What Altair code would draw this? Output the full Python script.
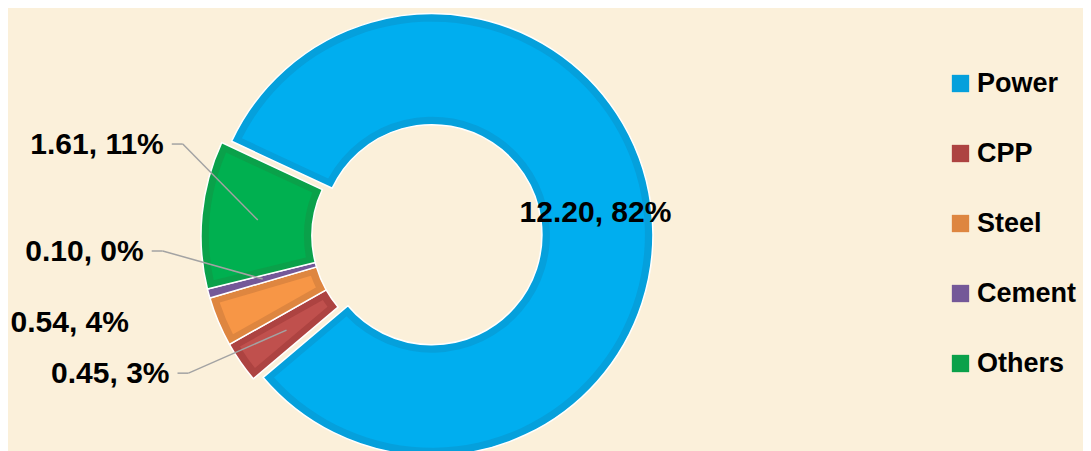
import math
import altair as alt
import pandas as pd

# ---------------- data ----------------
CATEGORIES = ["Power", "CPP", "Steel", "Cement", "Others"]
VALUES = [12.20, 0.45, 0.54, 0.10, 1.61]
PERCENTS = ["82%", "3%", "4%", "0%", "11%"]

# ---------------- style ----------------
FILL = ["#00AEEF", "#C0504D", "#F79646", "#8064A2", "#00B050"]
BORDER = ["#05A0DC", "#AD4341", "#DE8640", "#745898", "#0AA14A"]
BG = "#FBF0DA"
FONT = "Liberation Sans"

W, H = 1075, 443
REST_CX, REST_CY = 414, 228          # centre of the non-exploded slices
EXPLODE = 10                          # explosion of the first slice (px)
FIRST_SLICE_DEG = 295                 # angle of first slice (clockwise from top)
R_OUT, R_IN, BW = 221, 110, 8
LABEL_R = 165

START = math.radians(FIRST_SLICE_DEG - 360)
TOTAL = sum(VALUES)
bis = START + math.pi * VALUES[0] / TOTAL
POWER_CX = REST_CX + EXPLODE * math.sin(bis)
POWER_CY = REST_CY - EXPLODE * math.cos(bis)

# label placement offsets (relative to slice anchor), leader line on/off
LABEL_LAYOUT = {
    "Others": (-75, -76, True),
    "Cement": (-100, -28, True),
    "CPP": (-98, 43, True),
    "Steel": (-141, 22, False),
}

df = pd.DataFrame({
    "cat": CATEGORIES,
    "value": VALUES,
    "order": list(range(len(CATEGORIES))),
    "label": [f"{v:.2f}, {p}" for v, p in zip(VALUES, PERCENTS)],
})

base = (
    alt.Chart(df)
    .transform_window(cum="sum(value)", sort=[alt.SortField("order")], frame=[None, 0])
    .transform_joinaggregate(total="sum(value)")
    .transform_calculate(
        t0=f"{START} + 2*PI*(datum.cum - datum.value)/datum.total",
        t1=f"{START} + 2*PI*datum.cum/datum.total",
    )
    .transform_calculate(tm="(datum.t0 + datum.t1)/2")
)

legend = alt.Legend(
    title=None, orient="none", legendX=939, legendY=62,
    symbolType="square", symbolSize=300, symbolStrokeWidth=0, symbolOpacity=1,
    labelFont=FONT, labelFontSize=27, labelFontWeight="bold", labelColor="black",
    rowPadding=42, labelOffset=3, padding=0, labelLimit=300,
)

theta = alt.Theta("t0:Q", scale=None, stack=None)
theta2 = alt.Theta2("t1:Q")


def arcs(is_power, cx, cy):
    filt = "datum.cat == 'Power'" if is_power else "datum.cat != 'Power'"
    b = base.transform_filter(filt)
    border = b.mark_arc(
        outerRadius=R_OUT, innerRadius=R_IN, stroke="white", strokeWidth=1.5
    ).encode(
        theta=theta, theta2=theta2,
        color=alt.Color("cat:N", scale=alt.Scale(domain=CATEGORIES, range=BORDER),
                        legend=None if is_power else legend),
        x=alt.value(cx), y=alt.value(cy),
    )
    inner = b.mark_arc(
        outerRadius=R_OUT - BW, innerRadius=R_IN + BW, padAngle=0.058
    ).encode(
        theta=theta, theta2=theta2,
        color=alt.Color("cat:N", scale=alt.Scale(domain=CATEGORIES, range=FILL), legend=None),
        x=alt.value(cx), y=alt.value(cy),
    )
    return [border, inner]


layers = arcs(False, REST_CX, REST_CY) + arcs(True, POWER_CX, POWER_CY)

txt = dict(font=FONT, fontSize=30, fontWeight="bold", color="black")

# Power label, inside the ring
power_label = (
    base.transform_filter("datum.cat == 'Power'")
    .transform_calculate(
        px=f"{POWER_CX} + {LABEL_R}*sin(datum.tm)",
        py=f"{POWER_CY} - {LABEL_R}*cos(datum.tm)",
    )
    .mark_text(align="center", baseline="middle", **txt)
    .encode(x=alt.X("px:Q", scale=None), y=alt.Y("py:Q", scale=None), text="label:N")
)
layers.append(power_label)

for cat, (dx, dy, leader) in LABEL_LAYOUT.items():
    b = (
        base.transform_filter(f"datum.cat == '{cat}'")
        .transform_calculate(
            ax=f"{REST_CX} + {LABEL_R}*sin(datum.tm)",
            ay=f"{REST_CY} - {LABEL_R}*cos(datum.tm)",
        )
        .transform_calculate(ex=f"datum.ax + ({dx})", ey=f"datum.ay + ({dy})")
        .transform_calculate(hx="datum.ex - 11", tx=f"datum.ex - {19 if leader else 0}", ty="datum.ey + 1")
    )
    if leader:
        layers.append(
            b.mark_rule(color="#A3A3A3", strokeWidth=1.5).encode(
                x=alt.X("ax:Q", scale=None), y=alt.Y("ay:Q", scale=None),
                x2="ex:Q", y2="ey:Q",
            )
        )
        layers.append(
            b.mark_rule(color="#A3A3A3", strokeWidth=1.5).encode(
                x=alt.X("ex:Q", scale=None), y=alt.Y("ey:Q", scale=None),
                x2="hx:Q", y2="ey:Q",
            )
        )
    layers.append(
        b.mark_text(align="right", baseline="middle", **txt).encode(
            x=alt.X("tx:Q", scale=None), y=alt.Y("ty:Q", scale=None), text="label:N"
        )
    )

chart = (
    alt.layer(*layers)
    .resolve_scale(color="independent")
    .properties(width=W, height=H, background=BG, padding=0,
                autosize=alt.AutoSizeParams(type="none"))
    .configure_view(stroke=None)
)

chart.save("out.html", embed_options={"renderer": "svg", "actions": False})
